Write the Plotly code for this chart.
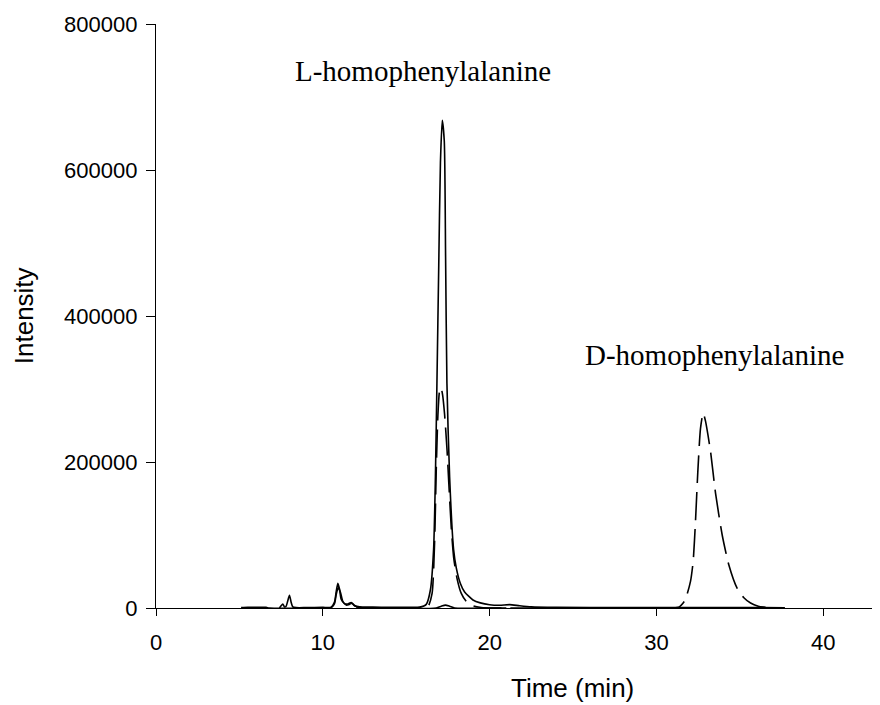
import plotly.graph_objects as go

# Trace A: solid chromatogram (L-homophenylalanine)
time_a = [7.4, 7.5, 7.6, 7.7, 7.8, 7.9, 8.0, 8.1, 8.2, 8.4, 9.0, 10.0, 10.5, 10.7, 10.8, 10.9,
          11.0, 11.1, 11.3, 11.5, 11.7, 11.9, 12.2, 13.0, 14.0, 15.0, 15.8, 16.2, 16.45, 16.64,
          16.75, 16.84, 16.95, 17.05, 17.16, 17.28, 17.36, 17.44, 17.6, 17.84, 18.0, 18.24, 18.5,
          19.0, 19.44, 20.0, 20.6, 21.2, 21.8, 22.5, 24.0, 28.0, 31.0, 34.0, 37.7]
int_a = [0, 3000, 5500, 1500, 2500, 10000, 17500, 8000, 1500, 500, 500, 800, 1200, 8000, 22000,
         34000, 26000, 12000, 6000, 5500, 7500, 3500, 1500, 1200, 1000, 1000, 1200, 5000, 25000,
         80000, 180000, 308000, 470000, 610000, 668000, 640000, 480000, 308000, 180000, 80000,
         55000, 34000, 22000, 11000, 7000, 4500, 3800, 4600, 3000, 1500, 800, 600, 700, 700, 400]

# Trace B: dashed chromatogram (racemic mixture)
time_b = [12.0, 16.0, 16.3, 16.55, 16.7, 16.8, 16.9, 17.0, 17.08, 17.18, 17.3, 17.45, 17.55, 17.7,
          17.85, 18.05, 18.3, 18.6, 19.0, 19.5, 20.2, 25.0, 30.0, 31.0, 31.34, 31.7, 32.04, 32.2,
          32.34, 32.48, 32.64, 32.8, 32.94, 33.24, 33.54, 33.94, 34.34, 34.84, 35.24, 35.64, 36.1,
          36.54]
int_b = [0, 0, 1500, 20000, 90000, 190000, 265000, 298000, 302000, 292000, 265000, 215000,
         172000, 110000, 68000, 40000, 20000, 9000, 3000, 800, 0, 0, 0, 0, 1000, 10000, 36500,
         64000, 119000, 187000, 246000, 267000, 256000, 214600, 157500, 100000, 59000, 27000,
         14000, 6800, 2500, 900]

# Trace C: solid chromatogram (blank)
time_c = [5.1, 5.5, 6.0, 6.6, 6.8, 9.5, 10.5, 10.7, 10.8, 10.92, 11.05, 11.2, 11.4, 11.6, 11.75,
          11.9, 12.2, 13.0, 16.8, 17.1, 17.35, 17.6, 17.9, 20.0, 21.0]
int_c = [700, 1000, 1000, 800, 0, 0, 500, 6000, 18000, 28000, 22000, 9000, 4000, 5000, 6500,
         3000, 800, 0, 0, 2500, 4000, 2500, 0, 0, 0]

x_ticks = [0, 10, 20, 30, 40]
y_ticks = [0, 200000, 400000, 600000, 800000]
peak_labels = ["L-homophenylalanine", "D-homophenylalanine"]
label_pos_x = [16.0, 33.5]
label_pos_y = [735000, 346000]

fig = go.Figure()
line_w = 1.6
fig.add_trace(go.Scatter(x=time_c, y=int_c, mode="lines",
                         line=dict(color="black", width=line_w, shape="spline", smoothing=0.6),
                         showlegend=False, hoverinfo="skip"))
fig.add_trace(go.Scatter(x=time_b, y=int_b, mode="lines",
                         line=dict(color="black", width=line_w, dash="28px,9px",
                                   shape="spline", smoothing=0.6),
                         showlegend=False, hoverinfo="skip"))
fig.add_trace(go.Scatter(x=time_a, y=int_a, mode="lines",
                         line=dict(color="black", width=line_w, shape="spline", smoothing=0.6),
                         showlegend=False, hoverinfo="skip"))

for txt, xx, yy in zip(peak_labels, label_pos_x, label_pos_y):
    fig.add_annotation(x=xx, y=yy, xref="x", yref="y", text=txt, showarrow=False,
                       font=dict(family="Liberation Serif", size=29, color="black"),
                       xanchor="center", yanchor="middle")

fig.add_annotation(x=(572 - 156) / 724, y=-0.137, xref="paper", yref="paper",
                   text="Time (min)", showarrow=False,
                   font=dict(family="Liberation Sans", size=26, color="black"),
                   xanchor="center", yanchor="middle")
fig.add_annotation(x=-0.182, y=0.5, xref="paper", yref="paper",
                   text="Intensity", showarrow=False, textangle=-90,
                   font=dict(family="Liberation Sans", size=26, color="black"),
                   xanchor="center", yanchor="middle")

fig.update_layout(
    width=872, height=697,
    margin=dict(l=148, r=0, t=16, b=97),
    paper_bgcolor="white", plot_bgcolor="white",
    font=dict(family="Liberation Sans", size=22, color="black"),
)
fig.update_xaxes(range=[0, 43.4], tickvals=x_ticks, ticktext=[str(v) for v in x_ticks],
                 showline=True, linecolor="black", linewidth=1.3, ticks="outside",
                 ticklen=7, tickwidth=1.3, tickcolor="black", showgrid=False, zeroline=False,
                 ticklabelstandoff=7, tickfont=dict(size=22))
fig.update_yaxes(range=[0, 800000], tickvals=y_ticks, ticktext=[str(v) for v in y_ticks],
                 showline=True, linecolor="black", linewidth=1.3, ticks="outside",
                 ticklen=9, tickwidth=1.3, tickcolor="black", showgrid=False, zeroline=False,
                 ticklabelstandoff=4, tickfont=dict(size=22))

fig.write_html("out.html")
